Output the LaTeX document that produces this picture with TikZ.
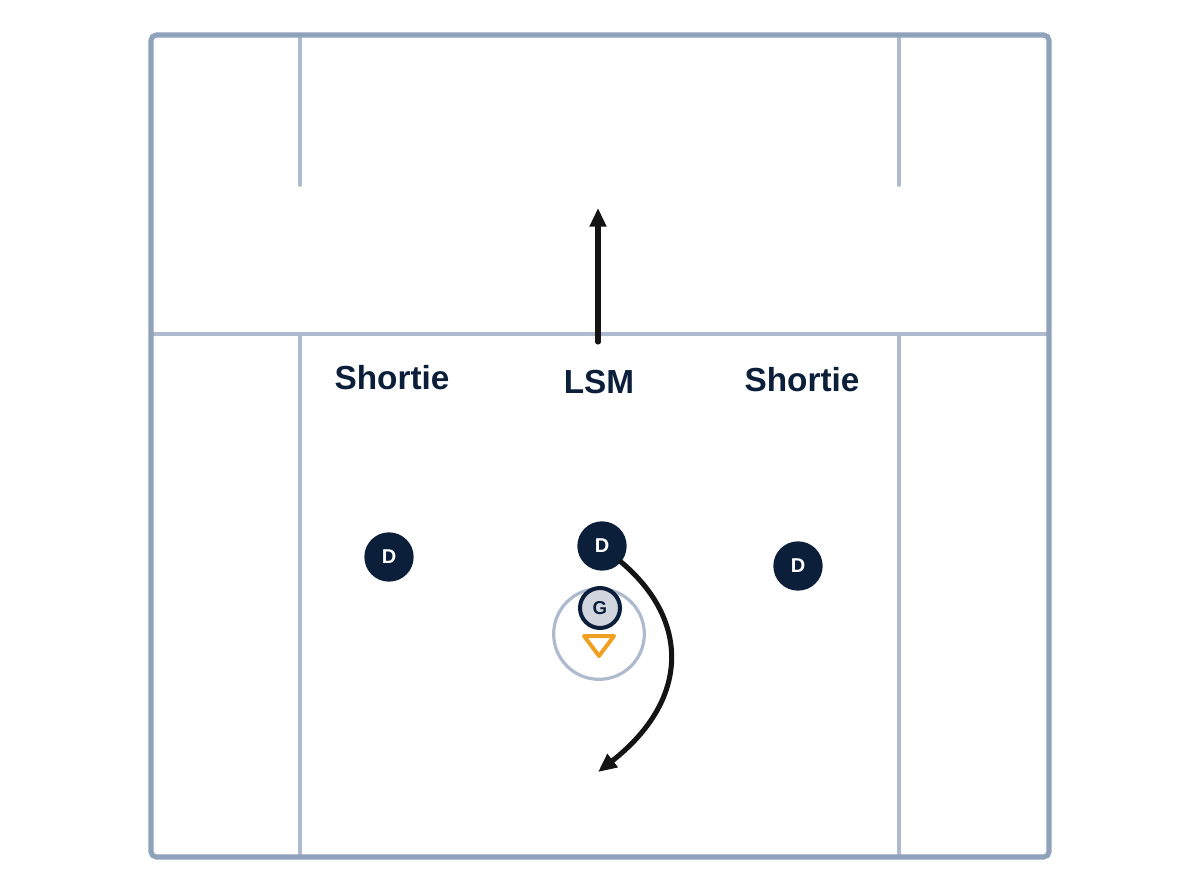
\documentclass[tikz,border=0pt]{standalone}
\usepackage{fontspec}
\setmainfont{Liberation Sans}
\usetikzlibrary{arrows.meta}
\definecolor{fieldouter}{HTML}{8FA2BC}
\definecolor{fieldinner}{HTML}{AEBBCE}
\definecolor{navy}{HTML}{0B1F3A}
\definecolor{gfill}{HTML}{D1D6DF}
\definecolor{cone}{HTML}{F0A020}
\tikzset{
  outerline/.style={draw=fieldouter,line width=3.8pt,rounded corners=4pt},
  innerline/.style={draw=fieldinner,line width=2.8pt,line cap=round},
  poslabel/.style={text=navy,font=\bfseries\fontsize{25}{26}\selectfont,inner sep=0pt},
  dplayer/.style={circle,fill=navy,minimum size=37pt,inner sep=0pt,text=white,font=\bfseries\fontsize{15}{15}\selectfont},
  gplayer/.style={circle,fill=gfill,draw=navy,line width=3pt,minimum size=30pt,inner sep=0pt,text=navy,font=\bfseries\fontsize{14}{14}\selectfont},
  crease/.style={circle,draw=fieldinner,line width=2.4pt,minimum size=68pt,inner sep=0pt},
  move/.style={draw=black!92,line width=3.8pt,line cap=round,-{Triangle[length=14pt,width=12pt]}},
  conestyle/.style={draw=cone,line width=3pt,line join=round}
}
\begin{document}
\begin{tikzpicture}[x=0.75pt,y=-0.75pt]
\useasboundingbox (0,0) rectangle (1200,896);
% field
\draw[innerline] (151,334) -- (1049,334);
\draw[innerline] (300,35) -- (300,185);
\draw[innerline] (899,35) -- (899,185);
\draw[innerline] (300,334) -- (300,857);
\draw[innerline] (899,334) -- (899,857);
\draw[outerline] (151,35) rectangle (1049,857);
% crease and goalie
\node[crease] (crease) at (599,634) {};
\draw[conestyle] (584,636) -- (614,636) -- (599,656) -- cycle;
\node[gplayer] (g) at (600,608) {G};
% labels
\node[poslabel] (s1) at (392,378) {Shortie};
\node[poslabel] (lsm) at (599,382) {LSM};
\node[poslabel] (s2) at (802,380) {Shortie};
% defenders
\node[dplayer] (d1) at (389,557) {D};
\node[dplayer] (d2) at (602,546) {D};
\node[dplayer] (d3) at (798,566) {D};
% movements
\coordinate (upstart) at (598,342);
\coordinate (upend) at (598,208);
\draw[move] (upstart) -- (upend);
\coordinate (curveend) at (598,772);
\draw[move] (d2.-40) .. controls (690,620) and (690,700) .. (curveend);
\end{tikzpicture}
\end{document}
